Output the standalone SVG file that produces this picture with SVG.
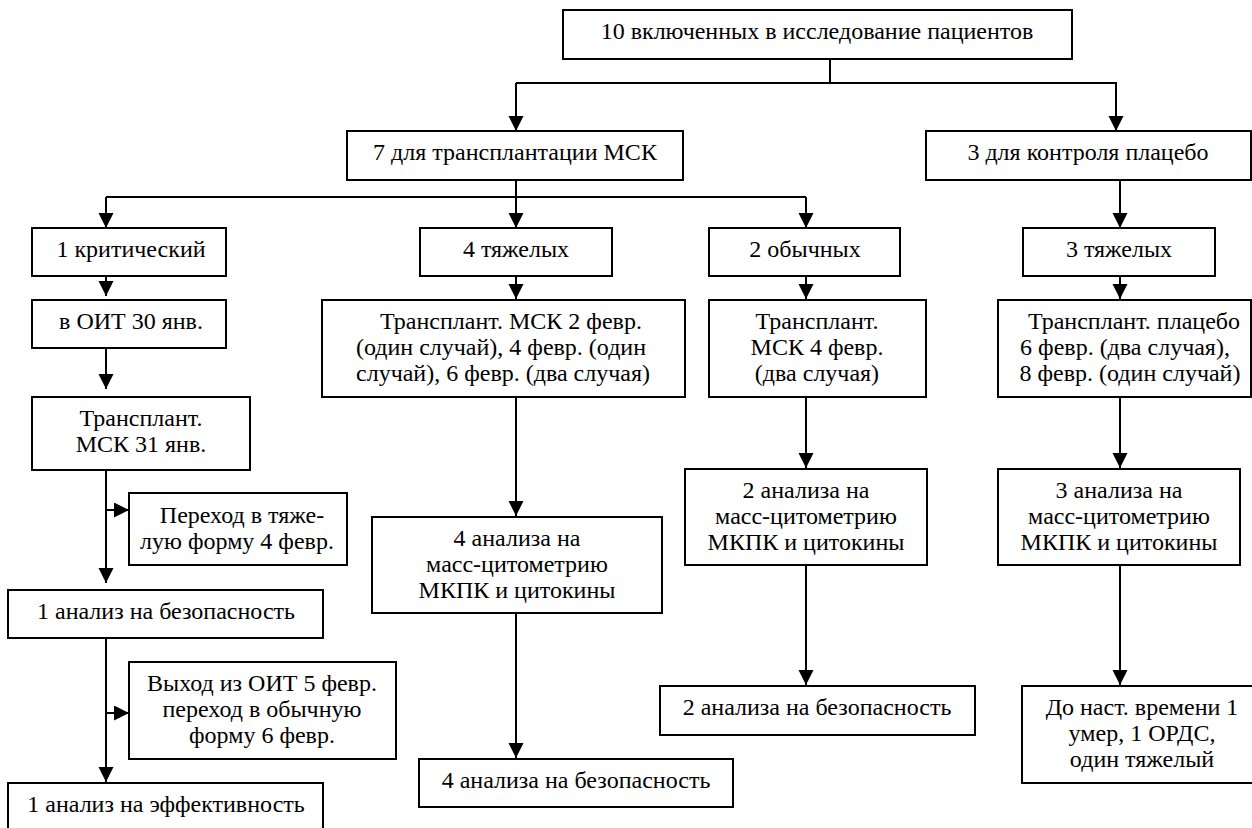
<svg xmlns="http://www.w3.org/2000/svg" width="1252" height="828" viewBox="0 0 1252 828">
<style>
rect{fill:#fff;stroke:#000;stroke-width:2}
text{font-family:Liberation Serif,Times New Roman,Tinos,DejaVu Serif,serif;font-size:24px;fill:#000;text-anchor:middle}
.c{fill:none;stroke:#000;stroke-width:2}
</style>
<defs>
<marker id="ah" markerUnits="userSpaceOnUse" markerWidth="16" markerHeight="16" refX="15" refY="7.5" orient="auto">
<path d="M0,0 L15,7.5 L0,15 z" fill="#000"/>
</marker>
</defs>
<rect x="0" y="0" width="1252" height="828" style="stroke:none"/>
<g id="connectors">
<path class="c" d="M830,59 V83"/>
<path class="c" d="M516,83 H1116"/>
<path class="c" d="M516,83 V131" marker-end="url(#ah)"/>
<path class="c" d="M1116,82 V131" marker-end="url(#ah)"/>
<path class="c" d="M516,180 V228" marker-end="url(#ah)"/>
<path class="c" d="M106,197 H806"/>
<path class="c" d="M106,197 V228" marker-end="url(#ah)"/>
<path class="c" d="M806,197 V228" marker-end="url(#ah)"/>
<path class="c" d="M1120,180 V228" marker-end="url(#ah)"/>
<path class="c" d="M106,276 V296" marker-end="url(#ah)"/>
<path class="c" d="M516,276 V299" marker-end="url(#ah)"/>
<path class="c" d="M806,276 V299" marker-end="url(#ah)"/>
<path class="c" d="M1120,276 V299" marker-end="url(#ah)"/>
<path class="c" d="M106,348 V389" marker-end="url(#ah)"/>
<path class="c" d="M106,470 V583" marker-end="url(#ah)"/>
<path class="c" d="M106,510 H129" marker-end="url(#ah)"/>
<path class="c" d="M106,638 V782" marker-end="url(#ah)"/>
<path class="c" d="M106,713 H129" marker-end="url(#ah)"/>
<path class="c" d="M516,397 V516" marker-end="url(#ah)"/>
<path class="c" d="M516,613 V758" marker-end="url(#ah)"/>
<path class="c" d="M806,397 V468" marker-end="url(#ah)"/>
<path class="c" d="M806,565 V685" marker-end="url(#ah)"/>
<path class="c" d="M1120,397 V468" marker-end="url(#ah)"/>
<path class="c" d="M1120,565 V685" marker-end="url(#ah)"/>
</g>
<g id="n_top"><rect x="563" y="10" width="509" height="49"/><text x="817" y="39">10 включенных в исследование пациентов</text></g>
<g id="n_msk"><rect x="347" y="131" width="336" height="49"/><text x="515" y="160">7 для трансплантации МСК</text></g>
<g id="n_placebo"><rect x="926" y="131" width="325" height="49"/><text x="1088" y="160">3 для контроля плацебо</text></g>
<g id="n_crit"><rect x="32" y="228" width="194" height="48"/><text x="131" y="257">1 критический</text></g>
<g id="n_sev4"><rect x="420" y="228" width="192" height="48"/><text x="516" y="257">4 тяжелых</text></g>
<g id="n_norm2"><rect x="709" y="228" width="191" height="48"/><text x="805" y="257">2 обычных</text></g>
<g id="n_sev3"><rect x="1023" y="228" width="192" height="48"/><text x="1119" y="257">3 тяжелых</text></g>
<g id="n_icu"><rect x="32" y="300" width="194" height="48"/><text x="131" y="329">в ОИТ 30 янв.</text></g>
<g id="n_tr31"><rect x="32" y="397" width="218" height="73"/><text x="141" y="426">Трансплант.</text><text x="141" y="452">МСК 31 янв.</text></g>
<g id="n_sevtrans"><rect x="129" y="493" width="218" height="72"/><text x="242" y="523">Переход в тяже-</text><text x="237" y="549">лую форму 4 февр.</text></g>
<g id="n_safe1"><rect x="8" y="590" width="315" height="48"/><text x="166" y="619">1 анализ на безопасность</text></g>
<g id="n_exit"><rect x="129" y="662" width="267" height="97"/><text x="262" y="691">Выход из ОИТ 5 февр.</text><text x="262" y="717">переход в обычную</text><text x="262" y="743">форму 6 февр.</text></g>
<g id="n_eff1"><rect x="8" y="783" width="315" height="50"/><text x="166" y="812">1 анализ на эффективность</text></g>
<g id="n_tr4"><rect x="322" y="300" width="363" height="97"/><text x="511" y="329">Трансплант. МСК 2 февр.</text><text x="501" y="355">(один случай), 4 февр. (один</text><text x="503" y="381">случай), 6 февр. (два случая)</text></g>
<g id="n_mass4"><rect x="372" y="517" width="290" height="96"/><text x="517" y="546">4 анализа на</text><text x="517" y="572">масс-цитометрию</text><text x="517" y="598">МКПК и цитокины</text></g>
<g id="n_safe4"><rect x="419" y="759" width="314" height="48"/><text x="576" y="788">4 анализа на безопасность</text></g>
<g id="n_tr2"><rect x="709" y="300" width="217" height="97"/><text x="817" y="329">Трансплант.</text><text x="817" y="355">МСК 4 февр.</text><text x="817" y="381">(два случая)</text></g>
<g id="n_mass2"><rect x="685" y="469" width="242" height="96"/><text x="806" y="498">2 анализа на</text><text x="806" y="524">масс-цитометрию</text><text x="806" y="550">МКПК и цитокины</text></g>
<g id="n_safe2"><rect x="660" y="686" width="315" height="49"/><text x="817" y="715">2 анализа на безопасность</text></g>
<g id="n_trp"><rect x="998" y="300" width="253" height="97"/><text x="1134" y="329">Трансплант. плацебо</text><text x="1125" y="355">6 февр. (два случая),</text><text x="1130" y="381">8 февр. (один случай)</text></g>
<g id="n_mass3"><rect x="998" y="469" width="242" height="96"/><text x="1119" y="498">3 анализа на</text><text x="1119" y="524">масс-цитометрию</text><text x="1119" y="550">МКПК и цитокины</text></g>
<g id="n_out"><rect x="1022" y="686" width="240" height="97"/><text x="1142" y="715">До наст. времени 1</text><text x="1142" y="741">умер, 1 ОРДС,</text><text x="1142" y="767">один тяжелый</text></g>
</svg>
